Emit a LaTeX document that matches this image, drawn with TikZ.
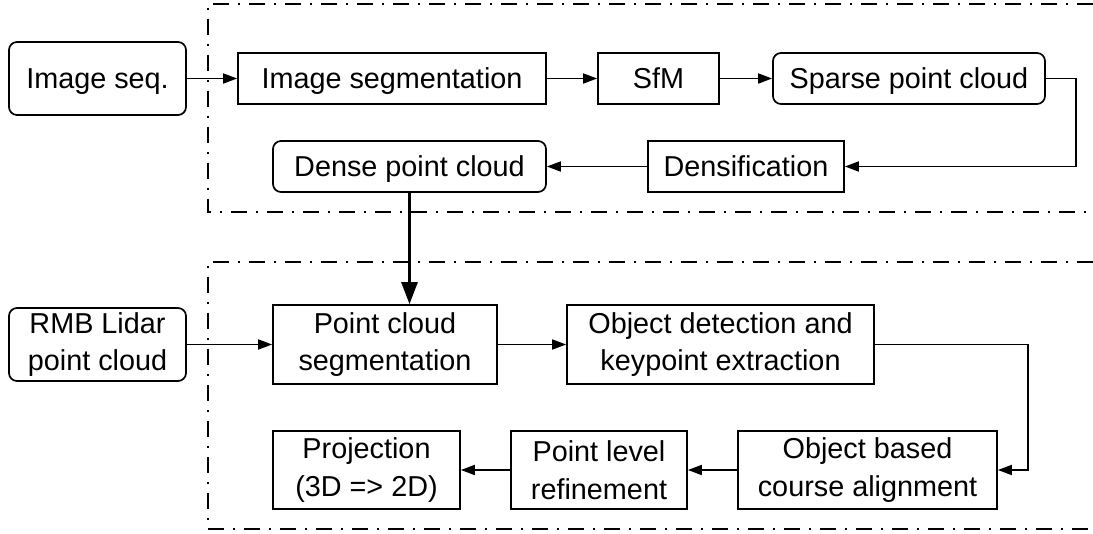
\documentclass[tikz,border=0pt]{standalone}
\usepackage{fontspec}
\setmainfont{Liberation Sans}
\usetikzlibrary{arrows.meta}
\tikzset{
  box/.style={draw, line width=0.85pt, inner sep=0pt, align=center, font=\fontsize{14.4}{18.8}\selectfont},
  rbox/.style={box, rounded corners=4pt},
  oneline/.style={text height=10.3pt, text depth=0pt},
  arr/.style={line width=0.85pt, -{Triangle[length=7pt,width=5pt]}},
  bigarr/.style={line width=1.4pt, -{Triangle[length=11pt,width=8pt]}},
  frame/.style={line width=0.85pt, dash pattern=on 8pt off 4.5pt on 1pt off 4.5pt},
}
\begin{document}
\begin{tikzpicture}[x=0.5pt,y=-0.5pt]
        \useasboundingbox (0,0) rectangle (1093,534);
        % frames
        \draw[frame] (1093,4) -- (208,4) -- (208,212) -- (1093,212);
        \draw[frame] (1093,262) -- (208,262) -- (208,529) -- (1093,529);
        % upper part
        \node[rbox,oneline,minimum width=88.5pt,minimum height=36.5pt] (imgseq) at (97.5,78.5) {Image seq.};
        \node[box,oneline,minimum width=154pt,minimum height=25.5pt] (imgseg) at (392,78.5) {Image segmentation};
        \node[box,oneline,minimum width=60.5pt,minimum height=25.5pt] (sfm) at (658.5,78.5) {SfM};
        \node[rbox,oneline,minimum width=136pt,minimum height=25.5pt] (sparse) at (909,78.5) {Sparse point cloud};
        \node[box,oneline,minimum width=98pt,minimum height=25.5pt] (densif) at (746,166.5) {Densification};
        \node[rbox,oneline,minimum width=136.5pt,minimum height=25.5pt] (dense) at (409.5,166.5) {Dense point cloud};

        \draw[arr] (imgseq) -- (imgseg);
        \draw[arr] (imgseg) -- (sfm);
        \draw[arr] (sfm) -- (sparse);
        \draw[arr] (sparse.east) -- ++(30,0) |- (densif.east);
        \draw[arr] (densif) -- (dense);

        % lower part
        \node[rbox,minimum width=88.5pt,minimum height=36.5pt] (rmb) at (97.5,344.5) {RMB Lidar\\point cloud};
        \node[box,minimum width=112pt,minimum height=39.5pt] (pcseg) at (385,344.5) {Point cloud\\segmentation};
        \node[box,minimum width=153.5pt,minimum height=39.5pt] (objdet) at (720.5,344.5) {Object detection and\\keypoint extraction};
        \node[box,minimum width=129.5pt,minimum height=39pt] (objbased) at (867.5,470) {Object based\\course alignment};
        \node[box,minimum width=88pt,minimum height=39pt] (ptlevel) at (599,470) {Point level\\refinement};
        \node[box,minimum width=93.5pt,minimum height=39pt] (proj) at (366.5,470) {Projection\\(3D => 2D)};

        \draw[bigarr] (dense.south) -- (dense.south |- pcseg.north);
        \draw[arr] (rmb) -- (pcseg);
        \draw[arr] (pcseg) -- (objdet);
        \draw[arr] (objdet.east) -- ++(153,0) |- (objbased.east);
        \draw[arr] (objbased) -- (ptlevel);
        \draw[arr] (ptlevel) -- (proj);
    \end{tikzpicture}
\end{document}
